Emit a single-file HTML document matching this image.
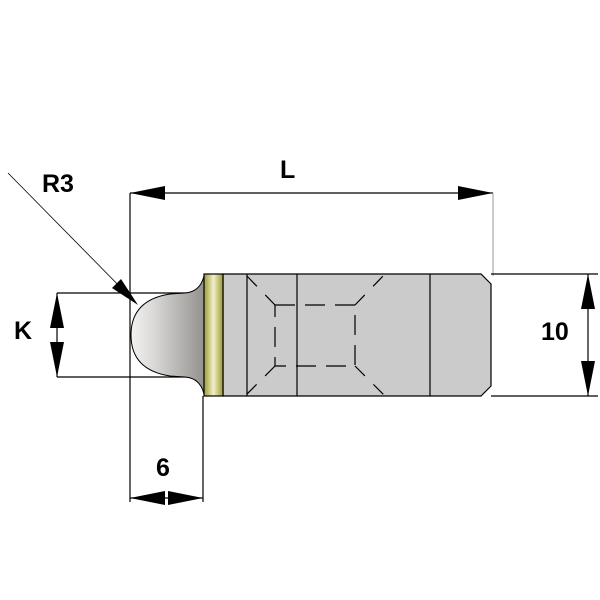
<!DOCTYPE html>
<html><head><style>body{margin:0;background:#fff}svg{display:block}</style></head><body>
<svg width="600" height="600" viewBox="0 0 600 600" xmlns="http://www.w3.org/2000/svg">
<defs>
<linearGradient id="dome" x1="0" x2="1" y1="0" y2="0">
<stop offset="0" stop-color="#f4f2f0"/><stop offset="0.3" stop-color="#dcdad8"/><stop offset="1" stop-color="#94928f"/></linearGradient>
<linearGradient id="ring" x1="0" x2="1" y1="0" y2="0">
<stop offset="0" stop-color="#9c9a40"/><stop offset="0.25" stop-color="#c8c678"/><stop offset="0.5" stop-color="#f0eed0"/><stop offset="0.75" stop-color="#c8c678"/><stop offset="1" stop-color="#9c9a40"/></linearGradient>
</defs>
<g stroke="#000" stroke-width="1.2" fill="none">
<line x1="130" y1="193" x2="130" y2="502"/>
<line x1="130" y1="193" x2="493" y2="193"/>
<line x1="493" y1="193" x2="493" y2="276" stroke="#aaa"/>
<line x1="203" y1="396" x2="203" y2="502"/>
<line x1="130" y1="498" x2="203" y2="498"/>
<line x1="57" y1="293" x2="205" y2="293"/>
<line x1="57" y1="377" x2="205" y2="377"/>
<line x1="57" y1="293" x2="57" y2="377"/>
<line x1="491" y1="274" x2="598" y2="274"/>
<line x1="491" y1="396" x2="598" y2="396"/>
<line x1="588" y1="274" x2="588" y2="396"/>
<line x1="8" y1="173" x2="135" y2="302" stroke-width="0.8"/>
</g>
<g fill="#000">
<polygon points="130,193 165,186 165,200"/>
<polygon points="493,193 458,186 458,200"/>
<polygon points="130,498 165,491 165,505"/>
<polygon points="203,498 168,491 168,505"/>
<polygon points="57,293 50,328 64,328"/>
<polygon points="57,377 50,342 64,342"/>
<polygon points="588,274 581,309 595,309"/>
<polygon points="588,396 581,361 595,361"/>
<polygon points="138,305 112,288 121,279"/>
</g>
<path d="M204,276 Q200,292 185,293 L170,294 Q131,300 131,335 Q131,370 170,376 L185,377 Q200,378 204,394 Z" fill="url(#dome)" stroke="#000" stroke-width="1"/>
<path d="M223,274 L481,274 L491,284 L491,386 L481,396 L223,396 Z" fill="#cbcbcb" stroke="#000" stroke-width="1.2"/>
<rect x="204" y="274" width="19" height="122" fill="url(#ring)" stroke="#000" stroke-width="1.2"/>
<g stroke="#000" stroke-width="1.2" fill="none">
<line x1="247" y1="274" x2="247" y2="396"/>
<line x1="297" y1="274" x2="297" y2="396"/>
<line x1="430" y1="274" x2="430" y2="396"/>
<g stroke-dasharray="20,10">
<rect x="275" y="305" width="80" height="61"/>
</g>
<g stroke-dasharray="14,12">
<line x1="275" y1="305" x2="245" y2="274"/>
<line x1="275" y1="366" x2="245" y2="396"/>
<line x1="355" y1="305" x2="385" y2="274"/>
<line x1="355" y1="366" x2="385" y2="396"/>
</g>
</g>
<g font-family="Liberation Sans, sans-serif" font-weight="bold" font-size="25" fill="#000">
<text x="42" y="192">R3</text>
<text x="280" y="178">L</text>
<text x="14" y="339">K</text>
<text x="541" y="340">10</text>
<text x="156" y="476">6</text>
</g>
</svg>
</body></html>
